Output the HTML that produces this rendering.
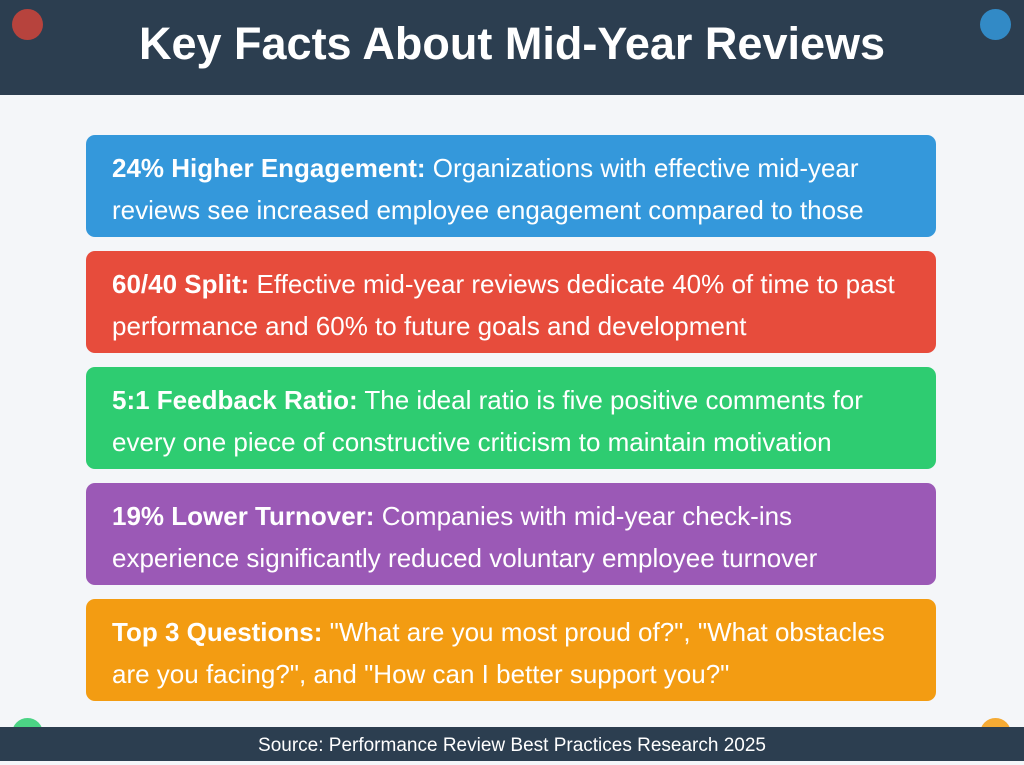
<!DOCTYPE html>
<html><head><meta charset="utf-8"><style>
*{margin:0;padding:0;box-sizing:border-box}
body{width:1024px;height:761px;background:#f4f6f9;font-family:"Liberation Sans",Arial,sans-serif;position:relative;overflow:hidden}
.hdr{position:absolute;left:0;top:0;width:1024px;height:95px;background:#2c3e50;color:#fff;text-align:center;font-weight:bold;font-size:45px;line-height:88px}
.ftr{position:absolute;left:0;top:727px;width:1024px;height:34px;background:#2c3e50;color:#fff;text-align:center;font-size:19px;line-height:38px}
.dot{position:absolute;width:31px;height:31px;border-radius:50%;opacity:.85}
.card{position:absolute;left:86px;width:850px;height:102px;border-radius:9px;color:#fff;padding:12px 26px 0 26px}
.txt{height:80px;overflow:hidden;font-size:26px;line-height:42px}
.txt b{font-weight:bold}
</style></head><body>
<div class="hdr">Key Facts About Mid-Year Reviews</div>
<div class="dot" style="left:12px;top:9px;background:#d0443a"></div>
<div class="dot" style="left:980px;top:9px;background:#3498db"></div>
<div class="dot" style="left:12px;top:718px;background:#2ecc71"></div>
<div class="dot" style="left:980px;top:718px;background:#f39c12"></div>

<div class="card" style="top:135px;background:#3498db"><div class="txt"><b>24% Higher Engagement:</b> Organizations with effective mid-year reviews see increased employee engagement compared to those without</div></div>
<div class="card" style="top:251px;background:#e74c3c"><div class="txt"><b>60/40 Split:</b> Effective mid-year reviews dedicate 40% of time to past performance and 60% to future goals and development</div></div>
<div class="card" style="top:367px;background:#2ecc71"><div class="txt"><b>5:1 Feedback Ratio:</b> The ideal ratio is five positive comments for every one piece of constructive criticism to maintain motivation</div></div>
<div class="card" style="top:483px;background:#9b59b6"><div class="txt"><b>19% Lower Turnover:</b> Companies with mid-year check-ins experience significantly reduced voluntary employee turnover</div></div>
<div class="card" style="top:599px;background:#f39c12"><div class="txt"><b>Top 3 Questions:</b> "What are you most proud of?", "What obstacles are you facing?", and "How can I better support you?"</div></div>

<div class="ftr">Source: Performance Review Best Practices Research 2025</div>
</body></html>
